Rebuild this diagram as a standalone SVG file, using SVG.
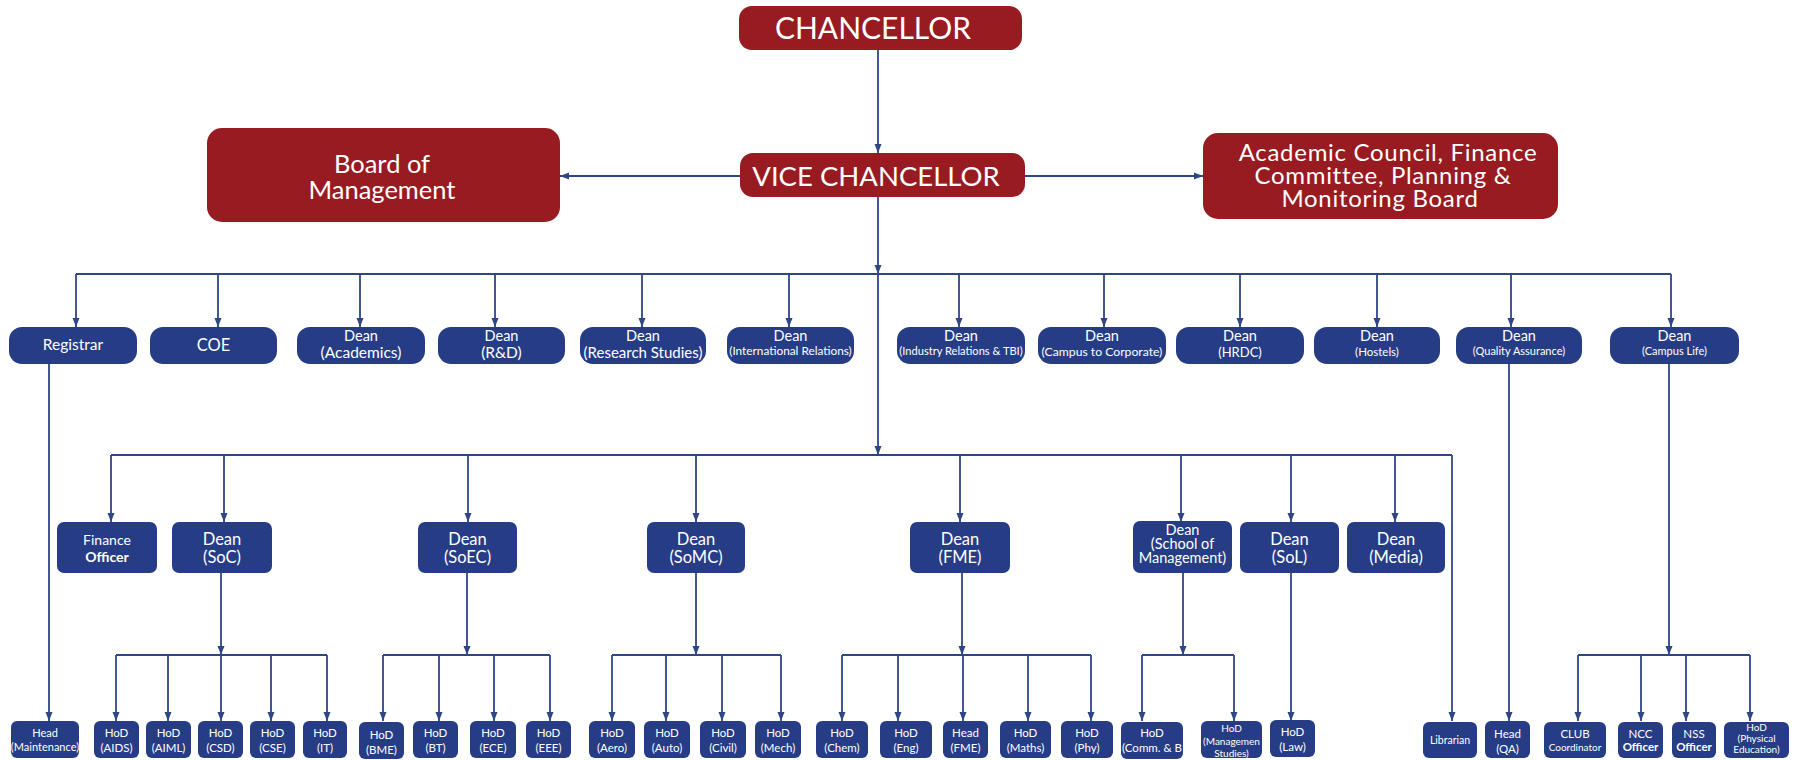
<svg xmlns="http://www.w3.org/2000/svg" width="1796" height="760" viewBox="0 0 1796 760">
<style>
.red{fill:#981b21}
.blue{fill:#263d86}
.ln{stroke:#2f4684;stroke-width:1.8;fill:none}
.ar{marker-end:url(#ah)}
text{font-family:Lato,"Liberation Sans",sans-serif;fill:#fff;text-anchor:middle}
.t1{font-size:14px}
.s1{font-size:14.5px}
.s1s{font-size:11px}
.t2{font-size:16.5px}
.t3{font-size:11.5px}
.t3s{font-size:10px}
.b{font-weight:bold}
</style>
<defs>
<marker id="ah" markerUnits="userSpaceOnUse" markerWidth="10" markerHeight="8" refX="9" refY="4" orient="auto">
<path d="M0,0.5 L9,4 L0,7.5 z" fill="#2f4684"/>
</marker>
</defs>
<rect width="1796" height="760" fill="#fff"/>
<g id="connectors">
<line class="ln ar" x1="878" y1="50" x2="878" y2="153"/>
<line class="ln ar" x1="740" y1="176" x2="560" y2="176"/>
<line class="ln ar" x1="1025" y1="176" x2="1203" y2="176"/>
<line class="ln ar" x1="878" y1="197" x2="878" y2="274"/>
<line class="ln ar" x1="878" y1="274" x2="878" y2="455"/>
<line class="ln" x1="76" y1="274" x2="1671" y2="274"/>
<line class="ln ar" x1="76" y1="274" x2="76" y2="327"/>
<line class="ln ar" x1="218" y1="274" x2="218" y2="327"/>
<line class="ln ar" x1="360" y1="274" x2="360" y2="327"/>
<line class="ln ar" x1="495" y1="274" x2="495" y2="327"/>
<line class="ln ar" x1="642" y1="274" x2="642" y2="327"/>
<line class="ln ar" x1="789" y1="274" x2="789" y2="327"/>
<line class="ln ar" x1="959" y1="274" x2="959" y2="327"/>
<line class="ln ar" x1="1104" y1="274" x2="1104" y2="327"/>
<line class="ln ar" x1="1240" y1="274" x2="1240" y2="327"/>
<line class="ln ar" x1="1377" y1="274" x2="1377" y2="327"/>
<line class="ln ar" x1="1511" y1="274" x2="1511" y2="327"/>
<line class="ln ar" x1="1671" y1="274" x2="1671" y2="327"/>
<line class="ln ar" x1="49" y1="364" x2="49" y2="721"/>
<line class="ln ar" x1="1509" y1="364" x2="1509" y2="721"/>
<line class="ln ar" x1="1669" y1="364" x2="1669" y2="655"/>
<line class="ln" x1="1578" y1="655" x2="1750" y2="655"/>
<line class="ln ar" x1="1578" y1="655" x2="1578" y2="721"/>
<line class="ln ar" x1="1641" y1="655" x2="1641" y2="721"/>
<line class="ln ar" x1="1686" y1="655" x2="1686" y2="721"/>
<line class="ln ar" x1="1750" y1="655" x2="1750" y2="721"/>
<line class="ln" x1="111" y1="455" x2="1452" y2="455"/>
<line class="ln ar" x1="111" y1="455" x2="111" y2="522"/>
<line class="ln ar" x1="224" y1="455" x2="224" y2="522"/>
<line class="ln ar" x1="468" y1="455" x2="468" y2="522"/>
<line class="ln ar" x1="696" y1="455" x2="696" y2="522"/>
<line class="ln ar" x1="960" y1="455" x2="960" y2="522"/>
<line class="ln ar" x1="1181" y1="455" x2="1181" y2="522"/>
<line class="ln ar" x1="1291" y1="455" x2="1291" y2="522"/>
<line class="ln ar" x1="1395" y1="455" x2="1395" y2="522"/>
<line class="ln ar" x1="1452" y1="455" x2="1452" y2="721"/>
<line class="ln ar" x1="221" y1="573" x2="221" y2="655"/>
<line class="ln" x1="116" y1="655" x2="327" y2="655"/>
<line class="ln ar" x1="116" y1="655" x2="116" y2="721"/>
<line class="ln ar" x1="168" y1="655" x2="168" y2="721"/>
<line class="ln ar" x1="221" y1="655" x2="221" y2="721"/>
<line class="ln ar" x1="271" y1="655" x2="271" y2="721"/>
<line class="ln ar" x1="327" y1="655" x2="327" y2="721"/>
<line class="ln ar" x1="467" y1="573" x2="467" y2="655"/>
<line class="ln" x1="383" y1="655" x2="550" y2="655"/>
<line class="ln ar" x1="383" y1="655" x2="383" y2="721"/>
<line class="ln ar" x1="439" y1="655" x2="439" y2="721"/>
<line class="ln ar" x1="494" y1="655" x2="494" y2="721"/>
<line class="ln ar" x1="550" y1="655" x2="550" y2="721"/>
<line class="ln ar" x1="696" y1="573" x2="696" y2="655"/>
<line class="ln" x1="612" y1="655" x2="781" y2="655"/>
<line class="ln ar" x1="612" y1="655" x2="612" y2="721"/>
<line class="ln ar" x1="666" y1="655" x2="666" y2="721"/>
<line class="ln ar" x1="722" y1="655" x2="722" y2="721"/>
<line class="ln ar" x1="781" y1="655" x2="781" y2="721"/>
<line class="ln ar" x1="962" y1="573" x2="962" y2="655"/>
<line class="ln" x1="842" y1="655" x2="1091" y2="655"/>
<line class="ln ar" x1="842" y1="655" x2="842" y2="721"/>
<line class="ln ar" x1="898" y1="655" x2="898" y2="721"/>
<line class="ln ar" x1="963" y1="655" x2="963" y2="721"/>
<line class="ln ar" x1="1028" y1="655" x2="1028" y2="721"/>
<line class="ln ar" x1="1091" y1="655" x2="1091" y2="721"/>
<line class="ln ar" x1="1183" y1="573" x2="1183" y2="655"/>
<line class="ln" x1="1142" y1="655" x2="1234" y2="655"/>
<line class="ln ar" x1="1142" y1="655" x2="1142" y2="721"/>
<line class="ln ar" x1="1234" y1="655" x2="1234" y2="721"/>
<line class="ln ar" x1="1291" y1="573" x2="1291" y2="721"/>
</g>

<g id="chancellor"><rect class="red" x="739" y="6" width="283" height="44" rx="13"/><text x="873" y="39" style="font-size:30px">CHANCELLOR</text></g>
<g id="vice-chancellor"><rect class="red" x="740" y="153" width="285" height="44" rx="13"/><text x="876" y="186" style="font-size:27.5px">VICE CHANCELLOR</text></g>
<g id="board"><rect class="red" x="207" y="128" width="353" height="94" rx="15"/><text x="382" y="173" style="font-size:25.5px">Board of</text><text x="382" y="199" style="font-size:25.5px">Management</text></g>
<g id="academic-council"><rect class="red" x="1203" y="133" width="355" height="86" rx="15"/><text x="1388" y="161" style="font-size:24px;letter-spacing:0.7px">Academic Council, Finance</text><text x="1383" y="184" style="font-size:24px;letter-spacing:0.7px">Committee, Planning &amp;</text><text x="1380" y="207" style="font-size:24px;letter-spacing:0.7px">Monitoring Board</text></g>

<g id="registrar"><rect class="blue" x="9" y="327" width="128" height="37" rx="13"/><text style="font-size:15.5px" x="73" y="350">Registrar</text></g>
<g id="coe"><rect class="blue" x="150" y="327" width="127" height="37" rx="13"/><text style="font-size:16.5px" x="213.5" y="351">COE</text></g>
<g id="dean-academics"><rect class="blue" x="297" y="327" width="128" height="37" rx="13"/><text class="s1" x="361" y="341">Dean</text><text style="font-size:15.5px" x="361" y="358">(Academics)</text></g>
<g id="dean-rd"><rect class="blue" x="438" y="327" width="127" height="37" rx="13"/><text class="s1" x="501.5" y="341">Dean</text><text style="font-size:15.5px" x="501.5" y="358">(R&amp;D)</text></g>
<g id="dean-research"><rect class="blue" x="580" y="327" width="126" height="37" rx="13"/><text class="s1" x="643" y="341">Dean</text><text style="font-size:15px" x="643" y="358">(Research Studies)</text></g>
<g id="dean-intl"><rect class="blue" x="727" y="327" width="127" height="37" rx="13"/><text class="s1" x="790.5" y="341">Dean</text><text style="font-size:11.8px" x="790.5" y="355">(International Relations)</text></g>
<g id="dean-industry"><rect class="blue" x="897" y="327" width="128" height="37" rx="13"/><text class="s1" x="961" y="341">Dean</text><text style="font-size:11.1px" x="961" y="355">(Industry Relations &amp; TBI)</text></g>
<g id="dean-c2c"><rect class="blue" x="1038" y="327" width="128" height="37" rx="13"/><text class="s1" x="1102" y="341">Dean</text><text style="font-size:12.2px" x="1102" y="356">(Campus to Corporate)</text></g>
<g id="dean-hrdc"><rect class="blue" x="1176" y="327" width="128" height="37" rx="13"/><text class="s1" x="1240" y="341">Dean</text><text style="font-size:13px" x="1240" y="357">(HRDC)</text></g>
<g id="dean-hostels"><rect class="blue" x="1314" y="327" width="126" height="37" rx="13"/><text class="s1" x="1377" y="341">Dean</text><text style="font-size:11.5px" x="1377" y="356">(Hostels)</text></g>
<g id="dean-qa"><rect class="blue" x="1456" y="327" width="126" height="37" rx="13"/><text class="s1" x="1519" y="341">Dean</text><text class="s1s" x="1519" y="355">(Quality Assurance)</text></g>
<g id="dean-campus-life"><rect class="blue" x="1610" y="327" width="129" height="37" rx="13"/><text class="s1" x="1674.5" y="341">Dean</text><text class="s1s" x="1674.5" y="355">(Campus Life)</text></g>

<g id="finance-officer"><rect class="blue" x="57" y="522" width="100" height="51" rx="7"/><text class="t1" x="107" y="545">Finance</text><text class="t1 b" x="107" y="562">Officer</text></g>
<g id="dean-soc"><rect class="blue" x="172" y="522" width="100" height="51" rx="7"/><text class="t2" x="222" y="545">Dean</text><text class="t2" x="222" y="563">(SoC)</text></g>
<g id="dean-soec"><rect class="blue" x="418" y="522" width="99" height="51" rx="7"/><text class="t2" x="467.5" y="545">Dean</text><text class="t2" x="467.5" y="563">(SoEC)</text></g>
<g id="dean-somc"><rect class="blue" x="647" y="522" width="98" height="51" rx="7"/><text class="t2" x="696" y="545">Dean</text><text class="t2" x="696" y="563">(SoMC)</text></g>
<g id="dean-fme"><rect class="blue" x="910" y="522" width="100" height="51" rx="7"/><text class="t2" x="960" y="545">Dean</text><text class="t2" x="960" y="563">(FME)</text></g>
<g id="dean-som"><rect class="blue" x="1133" y="521" width="99" height="52" rx="7"/><text style="font-size:14.5px" x="1182.5" y="535">Dean</text><text style="font-size:14.5px" x="1182.5" y="549">(School of</text><text style="font-size:14.5px" x="1182.5" y="563">Management)</text></g>
<g id="dean-sol"><rect class="blue" x="1240" y="522" width="99" height="51" rx="7"/><text class="t2" x="1289.5" y="545">Dean</text><text class="t2" x="1289.5" y="563">(SoL)</text></g>
<g id="dean-media"><rect class="blue" x="1347" y="522" width="98" height="51" rx="7"/><text class="t2" x="1396" y="545">Dean</text><text class="t2" x="1396" y="563">(Media)</text></g>

<g id="head-maintenance"><rect class="blue" x="11" y="721" width="68" height="37" rx="6"/><text style="font-size:11px" x="45" y="737">Head</text><text style="font-size:11px" x="45" y="751">(Maintenance)</text></g>
<g id="hod-aids"><rect class="blue" x="94" y="721" width="45" height="37" rx="6"/><text class="t3" x="116.5" y="737">HoD</text><text class="t3" x="116.5" y="752">(AIDS)</text></g>
<g id="hod-aiml"><rect class="blue" x="146" y="721" width="45" height="37" rx="6"/><text class="t3" x="168.5" y="737">HoD</text><text class="t3" x="168.5" y="752">(AIML)</text></g>
<g id="hod-csd"><rect class="blue" x="198" y="721" width="45" height="37" rx="6"/><text class="t3" x="220.5" y="737">HoD</text><text class="t3" x="220.5" y="752">(CSD)</text></g>
<g id="hod-cse"><rect class="blue" x="250" y="721" width="45" height="37" rx="6"/><text class="t3" x="272.5" y="737">HoD</text><text class="t3" x="272.5" y="752">(CSE)</text></g>
<g id="hod-it"><rect class="blue" x="303" y="721" width="44" height="37" rx="6"/><text class="t3" x="325" y="737">HoD</text><text class="t3" x="325" y="752">(IT)</text></g>
<g id="hod-bme"><rect class="blue" x="359" y="722" width="45" height="37" rx="6"/><text class="t3" x="381.5" y="739">HoD</text><text class="t3" x="381.5" y="754">(BME)</text></g>
<g id="hod-bt"><rect class="blue" x="413" y="721" width="45" height="37" rx="6"/><text class="t3" x="435.5" y="737">HoD</text><text class="t3" x="435.5" y="752">(BT)</text></g>
<g id="hod-ece"><rect class="blue" x="470" y="721" width="46" height="37" rx="6"/><text class="t3" x="493" y="737">HoD</text><text class="t3" x="493" y="752">(ECE)</text></g>
<g id="hod-eee"><rect class="blue" x="526" y="721" width="45" height="37" rx="6"/><text class="t3" x="548.5" y="737">HoD</text><text class="t3" x="548.5" y="752">(EEE)</text></g>
<g id="hod-aero"><rect class="blue" x="589" y="721" width="46" height="37" rx="6"/><text class="t3" x="612" y="737">HoD</text><text class="t3" x="612" y="752">(Aero)</text></g>
<g id="hod-auto"><rect class="blue" x="644" y="721" width="46" height="37" rx="6"/><text class="t3" x="667" y="737">HoD</text><text class="t3" x="667" y="752">(Auto)</text></g>
<g id="hod-civil"><rect class="blue" x="700" y="721" width="46" height="37" rx="6"/><text class="t3" x="723" y="737">HoD</text><text class="t3" x="723" y="752">(Civil)</text></g>
<g id="hod-mech"><rect class="blue" x="755" y="721" width="46" height="37" rx="6"/><text class="t3" x="778" y="737">HoD</text><text class="t3" x="778" y="752">(Mech)</text></g>
<g id="hod-chem"><rect class="blue" x="816" y="721" width="52" height="37" rx="6"/><text class="t3" x="842" y="737">HoD</text><text class="t3" x="842" y="752">(Chem)</text></g>
<g id="hod-eng"><rect class="blue" x="880" y="721" width="52" height="37" rx="6"/><text class="t3" x="906" y="737">HoD</text><text class="t3" x="906" y="752">(Eng)</text></g>
<g id="head-fme"><rect class="blue" x="943" y="721" width="45" height="37" rx="6"/><text class="t3" x="965.5" y="737">Head</text><text class="t3" x="965.5" y="752">(FME)</text></g>
<g id="hod-maths"><rect class="blue" x="1000" y="721" width="51" height="37" rx="6"/><text class="t3" x="1025.5" y="737">HoD</text><text class="t3" x="1025.5" y="752">(Maths)</text></g>
<g id="hod-phy"><rect class="blue" x="1061" y="721" width="52" height="37" rx="6"/><text class="t3" x="1087" y="737">HoD</text><text class="t3" x="1087" y="752">(Phy)</text></g>
<g id="hod-comm"><rect class="blue" x="1121" y="722" width="62" height="37" rx="6"/><text class="t3" x="1152" y="737">HoD</text><text class="t3" x="1152" y="752">(Comm. &amp; B</text></g>
<g id="hod-mgmt-studies"><rect class="blue" x="1201" y="721" width="61" height="37" rx="6"/><text class="t3s" x="1231.5" y="732">HoD</text><text class="t3s" x="1231.5" y="745">(Managemen</text><text class="t3s" x="1231.5" y="757">Studies)</text></g>
<g id="hod-law"><rect class="blue" x="1270" y="720" width="45" height="37" rx="6"/><text class="t3" x="1292.5" y="736">HoD</text><text class="t3" x="1292.5" y="751">(Law)</text></g>
<g id="librarian"><rect class="blue" x="1423" y="722" width="54" height="36" rx="6"/><text style="font-size:10.5px" x="1450" y="744">Librarian</text></g>
<g id="head-qa"><rect class="blue" x="1485" y="721" width="45" height="37" rx="6"/><text class="t3" x="1507.5" y="738">Head</text><text class="t3" x="1507.5" y="753">(QA)</text></g>
<g id="club-coordinator"><rect class="blue" x="1544" y="722" width="62" height="36" rx="6"/><text class="t3" x="1575" y="738">CLUB</text><text class="t3s" x="1575" y="751">Coordinator</text></g>
<g id="ncc-officer"><rect class="blue" x="1618" y="722" width="45" height="36" rx="6"/><text class="t3" x="1640.5" y="738">NCC</text><text class="t3 b" x="1640.5" y="751">Officer</text></g>
<g id="nss-officer"><rect class="blue" x="1672" y="722" width="44" height="36" rx="6"/><text class="t3" x="1694" y="738">NSS</text><text class="t3 b" x="1694" y="751">Officer</text></g>
<g id="hod-physical-education"><rect class="blue" x="1724" y="722" width="65" height="36" rx="6"/><text class="t3s" x="1756.5" y="731">HoD</text><text class="t3s" x="1756.5" y="742">(Physical</text><text class="t3s" x="1756.5" y="753">Education)</text></g>
</svg>
